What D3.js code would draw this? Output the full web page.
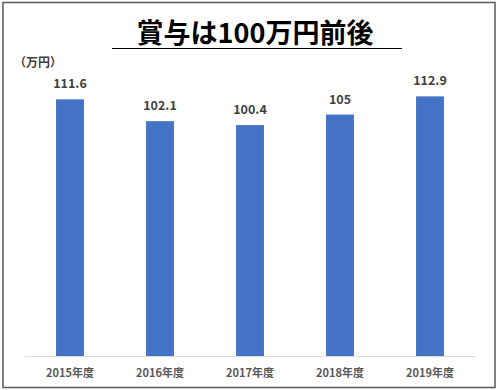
<!DOCTYPE html>
<html>
<head>
<meta charset="utf-8">
<script src="https://cdn.jsdelivr.net/npm/d3@7"></script>
<style>
  body { margin: 0; background: #fff; }
  text { font-family: "Noto Sans CJK JP", "Noto Sans", sans-serif; }
</style>
</head>
<body>
<div id="chart-area"></div>
<script>
// 賞与の推移
var years = ["2015年度", "2016年度", "2017年度", "2018年度", "2019年度"];
var bonus = [111.6, 102.1, 100.4, 105, 112.9];
var valueLabels = ["111.6", "102.1", "100.4", "105", "112.9"];

var margin = { left: 25, right: 25, top: 0, bottom: 34 };
var W = 500, H = 390;
var width = W - margin.left - margin.right,
    height = 356 - margin.top;

var svg = d3.select("#chart-area").append("svg")
    .attr("width", W)
    .attr("height", H);

// frame
svg.append("rect")
    .attr("x", 3).attr("y", 2.5)
    .attr("width", 492).attr("height", 385)
    .attr("fill", "none")
    .attr("stroke", "#595959")
    .attr("stroke-width", 1.5);

// title
svg.append("text")
    .attr("x", 255)
    .attr("y", 43)
    .attr("text-anchor", "middle")
    .attr("font-size", "27px")
    .attr("font-weight", "bold")
    .style("fill", "#000")
    .text("賞与は100万円前後");

svg.append("line")
    .attr("x1", 112).attr("x2", 402)
    .attr("y1", 48.5).attr("y2", 48.5)
    .attr("stroke", "#000")
    .attr("stroke-width", 1);

// unit label
svg.append("text")
    .attr("x", 14)
    .attr("y", 67)
    .attr("font-size", "12px")
    .attr("font-weight", "bold")
    .style("fill", "#404040")
    .text("（万円）");

var g = svg.append("g").attr("transform", "translate(" + margin.left + ", " + margin.top + ")");

var x = d3.scaleBand().domain(years).range([0, width]).paddingInner(0.69).paddingOuter(0.345);
var y = d3.scaleLinear().domain([0, 154.8]).range([height, 0]);

// x axis
var xAxisGroup = g.append("g")
    .attr("class", "x axis")
    .attr("transform", "translate(0, " + height + ")")
    .call(d3.axisBottom(x).tickSize(0).tickSizeOuter(0));

xAxisGroup.select(".domain")
    .attr("stroke", "#d9d9d9");

xAxisGroup.selectAll("text")
    .attr("dy", 0)
    .attr("y", 21)
    .attr("font-size", "11px")
    .attr("font-weight", "bold")
    .style("font-family", '"Noto Sans CJK JP", sans-serif')
    .style("fill", "#595959");

// bars
g.selectAll("rect.bar")
    .data(bonus)
    .enter().append("rect")
    .attr("class", "bar")
    .attr("x", (d, i) => x(years[i]))
    .attr("width", x.bandwidth())
    .attr("y", (d) => y(d))
    .attr("height", (d) => height - y(d))
    .attr("fill", "#4472c4");

// value labels
g.selectAll("text.value")
    .data(bonus)
    .enter().append("text")
    .attr("class", "value")
    .attr("x", (d, i) => x(years[i]) + x.bandwidth() / 2)
    .attr("y", (d) => y(d) - 11)
    .attr("text-anchor", "middle")
    .attr("font-size", "12.5px")
    .attr("font-weight", "bold")
    .style("fill", "#404040")
    .text((d, i) => valueLabels[i]);
</script>
</body>
</html>
